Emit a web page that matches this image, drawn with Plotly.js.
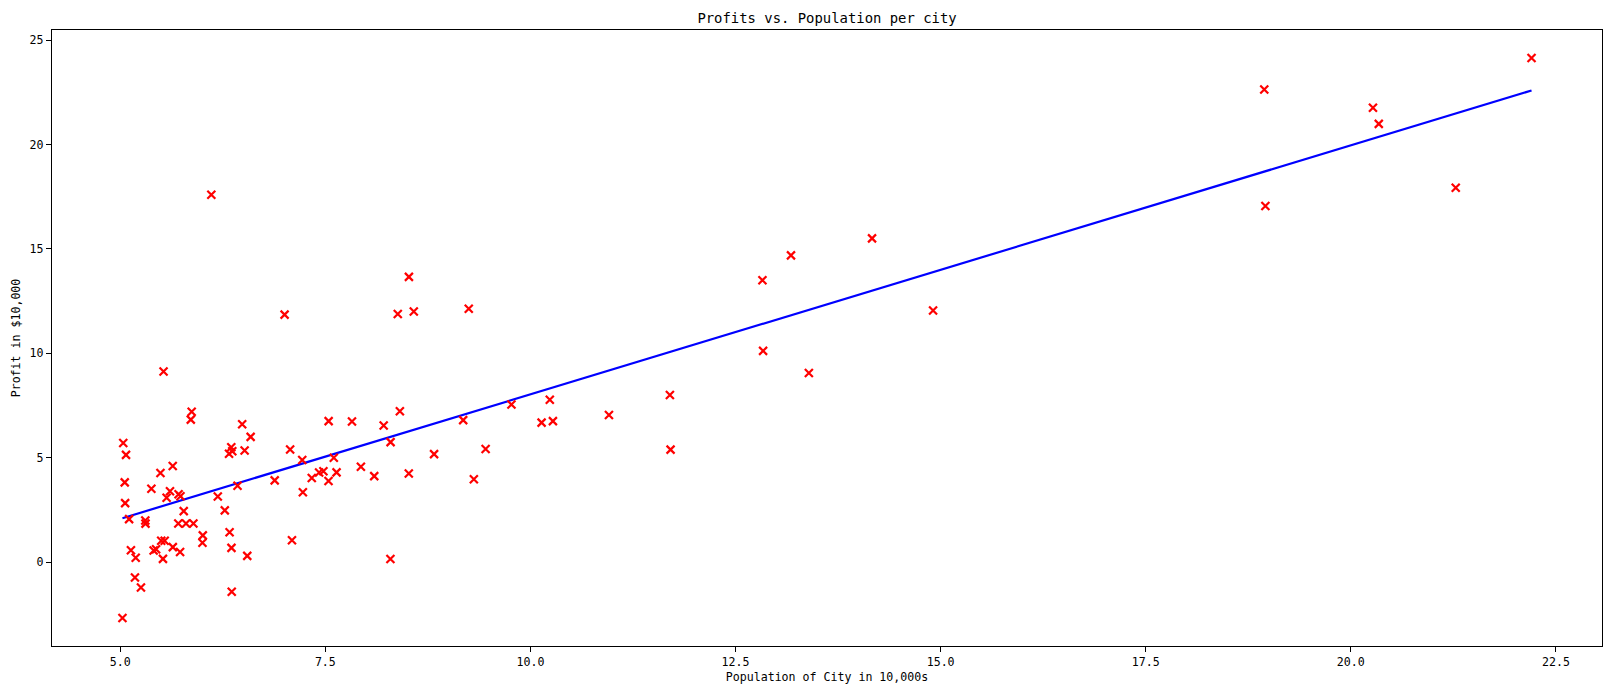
<!DOCTYPE html>
<html>
<head>
<meta charset="utf-8">
<script src="https://cdn.plot.ly/plotly-3.0.1.min.js"></script>
<style>html,body{margin:0;padding:0;background:#fff;}#chart{width:1612px;height:695px;}</style>
</head>
<body>
<div id="chart"></div>
<script>
const population = [6.1101,5.5277,8.5186,7.0032,5.8598,8.3829,7.4764,8.5781,6.4862,5.0546,5.7107,14.164,5.734,8.4084,5.6407,5.3794,6.3654,5.1301,6.4296,7.0708,6.1891,20.27,5.4901,6.3261,5.5649,18.945,12.828,10.957,13.176,22.203,5.2524,6.5894,9.2482,5.8918,8.2111,7.9334,8.0959,5.6063,12.836,6.3534,5.4069,6.8825,11.708,5.7737,7.8247,7.0931,5.0702,5.8014,11.7,5.5416,7.5402,5.3077,7.4239,7.6031,6.3328,6.3589,6.2742,5.6397,9.3102,9.4536,8.8254,5.1793,21.279,14.908,18.959,7.2182,8.2951,10.236,5.4994,20.341,10.136,7.3345,6.0062,7.2259,5.0269,6.5479,7.5386,5.0365,10.274,5.1077,5.7292,5.1884,6.3557,9.7687,6.5159,8.5172,9.1802,6.002,5.5204,5.0594,5.7077,7.6366,5.8707,5.3054,8.2934,13.394,5.4369];
const profit = [17.592,9.1302,13.662,11.854,6.8233,11.886,4.3483,12,6.5987,3.8166,3.2522,15.505,3.1551,7.2258,0.71618,3.5129,5.3048,0.56077,3.6518,5.3893,3.1386,21.767,4.263,5.1875,3.0825,22.638,13.501,7.0467,14.692,24.147,-1.22,5.9966,12.134,1.8495,6.5426,4.5623,4.1164,3.3928,10.117,5.4974,0.55657,3.9115,5.3854,2.4406,6.7318,1.0463,5.1337,1.844,8.0043,1.0179,6.7504,1.8396,4.2885,4.9981,1.4233,-1.4211,2.4756,4.6042,3.9624,5.4141,5.1694,-0.74279,17.929,12.054,17.054,4.8852,5.7442,7.7754,1.0173,20.992,6.6799,4.0259,1.2784,3.3411,-2.6807,0.29678,3.8845,5.7014,6.7526,2.0576,0.47953,0.20421,0.67861,7.5435,5.3436,4.2415,6.7981,0.92695,0.152,2.8214,1.8451,4.2959,7.2029,1.9869,0.14454,9.0551,0.61705];
const fitX = [5.0269, 22.203];
const fitY = [2.101, 22.593];
const xTicks = [5.0, 7.5, 10.0, 12.5, 15.0, 17.5, 20.0, 22.5];
const xTickLabels = ['5.0','7.5','10.0','12.5','15.0','17.5','20.0','22.5'];
const yTicks = [0, 5, 10, 15, 20, 25];
const yTickLabels = ['0','5','10','15','20','25'];

const FONT = '"DejaVu Sans Mono", "Liberation Mono", monospace';
const traces = [
  {x: fitX, y: fitY, type: 'scatter', mode: 'lines', line: {color: '#0000ff', width: 2.2}, hoverinfo: 'skip', showlegend: false},
  {x: population, y: profit, type: 'scatter', mode: 'markers',
   marker: {symbol: 'x-thin-open', size: 8, color: '#ff0000', line: {color: '#ff0000', width: 2.2}}, showlegend: false}
];
const axisCommon = {showgrid: false, zeroline: false, showline: true, mirror: true, linecolor: '#000', linewidth: 1.2,
  ticks: 'outside', ticklen: 5, tickwidth: 1, tickcolor: '#000', tickfont: {family: FONT, size: 11.6, color: '#000'}};
const layout = {
  width: 1612, height: 695,
  margin: {l: 52, r: 10, t: 30, b: 49},
  paper_bgcolor: '#fff', plot_bgcolor: '#fff',
  title: {text: 'Profits vs. Population per city', font: {family: FONT, size: 13.9, color: '#000'}, x: 0.5, xref: 'paper', y: 1, yref: 'paper', yanchor: 'bottom', pad: {b: 7}},
  xaxis: Object.assign({}, axisCommon, {range: [4.168, 23.062], tickvals: xTicks, ticktext: xTickLabels,
    title: {text: 'Population of City in 10,000s', font: {family: FONT, size: 11.6, color: '#000'}, standoff: 4}}),
  yaxis: Object.assign({}, axisCommon, {range: [-4.022, 25.489], tickvals: yTicks, ticktext: yTickLabels,
    title: {text: 'Profit in $10,000', font: {family: FONT, size: 11.6, color: '#000'}, standoff: 6}})
};
Plotly.newPlot('chart', traces, layout, {staticPlot: true, displayModeBar: false});
</script>
</body>
</html>
